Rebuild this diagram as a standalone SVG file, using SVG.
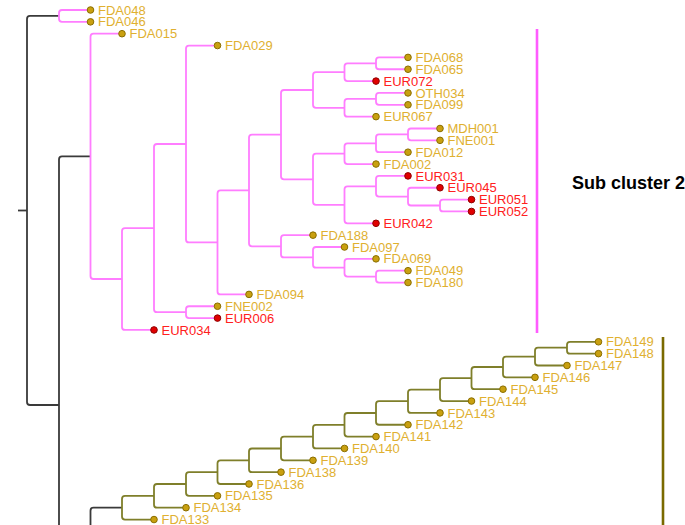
<svg xmlns="http://www.w3.org/2000/svg" width="685" height="525" viewBox="0 0 685 525">
<style>
.e{fill:none;stroke-width:1.8;stroke-linejoin:round;stroke-linecap:butt}
.k{stroke:#3a3a3a}
.m{stroke:#ff7dff}
.o{stroke:#7f7f2a}
text{font-family:"Liberation Sans",Arial,sans-serif;font-size:13px}
.g text{fill:#e0b030}
.r text{fill:#ff2020}
.g circle{fill:#c9a010;stroke:#8a6e00;stroke-width:1}
.r circle{fill:#e00000;stroke:#900000;stroke-width:1}
.lbl{font-size:18px;font-weight:bold;fill:#000}
</style>
<rect width="685" height="525" fill="#fff"/>
<g id="connectors">
<path class="e k" d="M59,15.9 H30 Q27,15.9 27,18.9 V402 Q27,405 30,405 H59"/>
<path class="e k" d="M18,210.5 H27"/>
<path class="e k" d="M90.5,156.4 H62 Q59,156.4 59,159.4 V530"/>
<path class="e k" d="M122,507.7 H93.5 Q90.5,507.7 90.5,510.7 V530"/>
<path class="e m" d="M90.5,10 H62 Q59,10 59,13 V18.85 Q59,21.85 62,21.85 H90.5"/>
<path class="e m" d="M122,33.7 H93.5 Q90.5,33.7 90.5,36.7 V276 Q90.5,279 93.5,279 H122"/>
<path class="e m" d="M154,228.1 H125 Q122,228.1 122,231.1 V326.95 Q122,329.95 125,329.95 H154"/>
<path class="e m" d="M186,144 H157 Q154,144 154,147 V309.2 Q154,312.2 157,312.2 H186"/>
<path class="e m" d="M217.5,45.55 H189 Q186,45.55 186,48.55 V239.4 Q186,242.4 189,242.4 H217.5"/>
<path class="e m" d="M217.5,306.25 H189 Q186,306.25 186,309.25 V315.1 Q186,318.1 189,318.1 H217.5"/>
<path class="e m" d="M249,190.4 H220.5 Q217.5,190.4 217.5,193.4 V291.4 Q217.5,294.4 220.5,294.4 H249"/>
<path class="e m" d="M281,134.6 H252 Q249,134.6 249,137.6 V243.3 Q249,246.3 252,246.3 H281"/>
<path class="e m" d="M313,90 H284 Q281,90 281,93 V176.3 Q281,179.3 284,179.3 H313"/>
<path class="e m" d="M344.5,72.2 H316 Q313,72.2 313,75.2 V104.8 Q313,107.8 316,107.8 H344.5"/>
<path class="e m" d="M376,63.3 H347.5 Q344.5,63.3 344.5,66.3 V78.1 Q344.5,81.1 347.5,81.1 H376"/>
<path class="e m" d="M408,57.4 H379 Q376,57.4 376,60.4 V66.25 Q376,69.25 379,69.25 H408"/>
<path class="e m" d="M376,98.9 H347.5 Q344.5,98.9 344.5,101.9 V113.65 Q344.5,116.65 347.5,116.65 H376"/>
<path class="e m" d="M408,92.95 H379 Q376,92.95 376,95.95 V101.8 Q376,104.8 379,104.8 H408"/>
<path class="e m" d="M344.5,153.7 H316 Q313,153.7 313,156.7 V201.8 Q313,204.8 316,204.8 H344.5"/>
<path class="e m" d="M376,143.3 H347.5 Q344.5,143.3 344.5,146.3 V161.05 Q344.5,164.05 347.5,164.05 H376"/>
<path class="e m" d="M408,134.4 H379 Q376,134.4 376,137.4 V149.2 Q376,152.2 379,152.2 H408"/>
<path class="e m" d="M440,128.5 H411 Q408,128.5 408,131.5 V137.35 Q408,140.35 411,140.35 H440"/>
<path class="e m" d="M376,186.3 H347.5 Q344.5,186.3 344.5,189.3 V220.3 Q344.5,223.3 347.5,223.3 H376"/>
<path class="e m" d="M408,175.9 H379 Q376,175.9 376,178.9 V193.6 Q376,196.6 379,196.6 H408"/>
<path class="e m" d="M440,187.75 H411 Q408,187.75 408,190.75 V202.5 Q408,205.5 411,205.5 H440"/>
<path class="e m" d="M471.5,199.6 H443 Q440,199.6 440,202.6 V208.45 Q440,211.45 443,211.45 H471.5"/>
<path class="e m" d="M313,235.15 H284 Q281,235.15 281,238.15 V254.4 Q281,257.4 284,257.4 H313"/>
<path class="e m" d="M344.5,247 H316 Q313,247 313,250 V264.7 Q313,267.7 316,267.7 H344.5"/>
<path class="e m" d="M376,258.85 H347.5 Q344.5,258.85 344.5,261.85 V273.6 Q344.5,276.6 347.5,276.6 H376"/>
<path class="e m" d="M408,270.7 H379 Q376,270.7 376,273.7 V279.55 Q376,282.55 379,282.55 H408"/>
<path class="e o" d="M598.5,341.8 H570 Q567,341.8 567,344.8 V350.65 Q567,353.65 570,353.65 H598.5"/>
<path class="e o" d="M567,347.7 H538 Q535,347.7 535,350.7 V362.5 Q535,365.5 538,365.5 H567"/>
<path class="e o" d="M535,356.6 H506 Q503,356.6 503,359.6 V374.35 Q503,377.35 506,377.35 H535"/>
<path class="e o" d="M503,367 H474.5 Q471.5,367 471.5,370 V386.2 Q471.5,389.2 474.5,389.2 H503"/>
<path class="e o" d="M471.5,378.1 H443 Q440,378.1 440,381.1 V398.05 Q440,401.05 443,401.05 H471.5"/>
<path class="e o" d="M440,389.6 H411 Q408,389.6 408,392.6 V409.9 Q408,412.9 411,412.9 H440"/>
<path class="e o" d="M408,401.2 H379 Q376,401.2 376,404.2 V421.75 Q376,424.75 379,424.75 H408"/>
<path class="e o" d="M376,413 H347.5 Q344.5,413 344.5,416 V433.6 Q344.5,436.6 347.5,436.6 H376"/>
<path class="e o" d="M344.5,424.8 H316 Q313,424.8 313,427.8 V445.45 Q313,448.45 316,448.45 H344.5"/>
<path class="e o" d="M313,436.6 H284 Q281,436.6 281,439.6 V457.3 Q281,460.3 284,460.3 H313"/>
<path class="e o" d="M281,448.5 H252 Q249,448.5 249,451.5 V469.15 Q249,472.15 252,472.15 H281"/>
<path class="e o" d="M249,460.3 H220.5 Q217.5,460.3 217.5,463.3 V481 Q217.5,484 220.5,484 H249"/>
<path class="e o" d="M217.5,472.2 H189 Q186,472.2 186,475.2 V492.85 Q186,495.85 189,495.85 H217.5"/>
<path class="e o" d="M186,484 H157 Q154,484 154,487 V504.7 Q154,507.7 157,507.7 H186"/>
<path class="e o" d="M154,495.9 H125 Q122,495.9 122,498.9 V516.55 Q122,519.55 125,519.55 H154"/>
</g>
<g id="bars">
<line x1="537" y1="29" x2="537" y2="333" stroke="#ff5cff" stroke-width="2.6"/>
<line x1="663" y1="337" x2="663" y2="530" stroke="#7a6a00" stroke-width="2.6"/>
<text class="lbl" x="572" y="188.5">Sub cluster 2</text>
</g>
<g id="FDA048" class="g"><circle cx="90.5" cy="10" r="3.3"/><text x="98" y="14.6">FDA048</text></g>
<g id="FDA046" class="g"><circle cx="90.5" cy="21.85" r="3.3"/><text x="98" y="26.45">FDA046</text></g>
<g id="FDA015" class="g"><circle cx="122" cy="33.7" r="3.3"/><text x="129.5" y="38.3">FDA015</text></g>
<g id="FDA029" class="g"><circle cx="217.5" cy="45.55" r="3.3"/><text x="225" y="50.15">FDA029</text></g>
<g id="FDA068" class="g"><circle cx="408" cy="57.4" r="3.3"/><text x="415.5" y="62">FDA068</text></g>
<g id="FDA065" class="g"><circle cx="408" cy="69.25" r="3.3"/><text x="415.5" y="73.85">FDA065</text></g>
<g id="EUR072" class="r"><circle cx="376" cy="81.1" r="3.3"/><text x="383.5" y="85.7">EUR072</text></g>
<g id="OTH034" class="g"><circle cx="408" cy="92.95" r="3.3"/><text x="415.5" y="97.55">OTH034</text></g>
<g id="FDA099" class="g"><circle cx="408" cy="104.8" r="3.3"/><text x="415.5" y="109.4">FDA099</text></g>
<g id="EUR067" class="g"><circle cx="376" cy="116.65" r="3.3"/><text x="383.5" y="121.25">EUR067</text></g>
<g id="MDH001" class="g"><circle cx="440" cy="128.5" r="3.3"/><text x="447.5" y="133.1">MDH001</text></g>
<g id="FNE001" class="g"><circle cx="440" cy="140.35" r="3.3"/><text x="447.5" y="144.95">FNE001</text></g>
<g id="FDA012" class="g"><circle cx="408" cy="152.2" r="3.3"/><text x="415.5" y="156.8">FDA012</text></g>
<g id="FDA002" class="g"><circle cx="376" cy="164.05" r="3.3"/><text x="383.5" y="168.65">FDA002</text></g>
<g id="EUR031" class="r"><circle cx="408" cy="175.9" r="3.3"/><text x="415.5" y="180.5">EUR031</text></g>
<g id="EUR045" class="r"><circle cx="440" cy="187.75" r="3.3"/><text x="447.5" y="192.35">EUR045</text></g>
<g id="EUR051" class="r"><circle cx="471.5" cy="199.6" r="3.3"/><text x="479" y="204.2">EUR051</text></g>
<g id="EUR052" class="r"><circle cx="471.5" cy="211.45" r="3.3"/><text x="479" y="216.05">EUR052</text></g>
<g id="EUR042" class="r"><circle cx="376" cy="223.3" r="3.3"/><text x="383.5" y="227.9">EUR042</text></g>
<g id="FDA188" class="g"><circle cx="313" cy="235.15" r="3.3"/><text x="320.5" y="239.75">FDA188</text></g>
<g id="FDA097" class="g"><circle cx="344.5" cy="247" r="3.3"/><text x="352" y="251.6">FDA097</text></g>
<g id="FDA069" class="g"><circle cx="376" cy="258.85" r="3.3"/><text x="383.5" y="263.45">FDA069</text></g>
<g id="FDA049" class="g"><circle cx="408" cy="270.7" r="3.3"/><text x="415.5" y="275.3">FDA049</text></g>
<g id="FDA180" class="g"><circle cx="408" cy="282.55" r="3.3"/><text x="415.5" y="287.15">FDA180</text></g>
<g id="FDA094" class="g"><circle cx="249" cy="294.4" r="3.3"/><text x="256.5" y="299">FDA094</text></g>
<g id="FNE002" class="g"><circle cx="217.5" cy="306.25" r="3.3"/><text x="225" y="310.85">FNE002</text></g>
<g id="EUR006" class="r"><circle cx="217.5" cy="318.1" r="3.3"/><text x="225" y="322.7">EUR006</text></g>
<g id="EUR034" class="r"><circle cx="154" cy="329.95" r="3.3"/><text x="161.5" y="334.55">EUR034</text></g>
<g id="FDA149" class="g"><circle cx="598.5" cy="341.8" r="3.3"/><text x="606" y="346.4">FDA149</text></g>
<g id="FDA148" class="g"><circle cx="598.5" cy="353.65" r="3.3"/><text x="606" y="358.25">FDA148</text></g>
<g id="FDA147" class="g"><circle cx="567" cy="365.5" r="3.3"/><text x="574.5" y="370.1">FDA147</text></g>
<g id="FDA146" class="g"><circle cx="535" cy="377.35" r="3.3"/><text x="542.5" y="381.95">FDA146</text></g>
<g id="FDA145" class="g"><circle cx="503" cy="389.2" r="3.3"/><text x="510.5" y="393.8">FDA145</text></g>
<g id="FDA144" class="g"><circle cx="471.5" cy="401.05" r="3.3"/><text x="479" y="405.65">FDA144</text></g>
<g id="FDA143" class="g"><circle cx="440" cy="412.9" r="3.3"/><text x="447.5" y="417.5">FDA143</text></g>
<g id="FDA142" class="g"><circle cx="408" cy="424.75" r="3.3"/><text x="415.5" y="429.35">FDA142</text></g>
<g id="FDA141" class="g"><circle cx="376" cy="436.6" r="3.3"/><text x="383.5" y="441.2">FDA141</text></g>
<g id="FDA140" class="g"><circle cx="344.5" cy="448.45" r="3.3"/><text x="352" y="453.05">FDA140</text></g>
<g id="FDA139" class="g"><circle cx="313" cy="460.3" r="3.3"/><text x="320.5" y="464.9">FDA139</text></g>
<g id="FDA138" class="g"><circle cx="281" cy="472.15" r="3.3"/><text x="288.5" y="476.75">FDA138</text></g>
<g id="FDA136" class="g"><circle cx="249" cy="484" r="3.3"/><text x="256.5" y="488.6">FDA136</text></g>
<g id="FDA135" class="g"><circle cx="217.5" cy="495.85" r="3.3"/><text x="225" y="500.45">FDA135</text></g>
<g id="FDA134" class="g"><circle cx="186" cy="507.7" r="3.3"/><text x="193.5" y="512.3">FDA134</text></g>
<g id="FDA133" class="g"><circle cx="154" cy="519.55" r="3.3"/><text x="161.5" y="524.15">FDA133</text></g>
</svg>
